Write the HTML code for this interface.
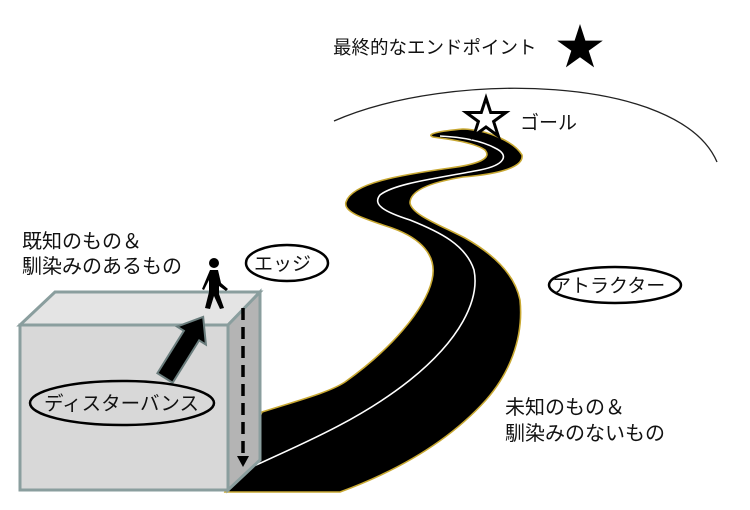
<!DOCTYPE html>
<html><head><meta charset="utf-8"><style>
body{margin:0;background:#fff;width:750px;height:505px;overflow:hidden}
svg text{font-family:"Liberation Sans","Noto Sans CJK JP",sans-serif;font-size:19px;fill:#111}
</style></head><body>
<svg width="750" height="505" viewBox="0 0 750 505" xmlns="http://www.w3.org/2000/svg">
<path d="M334,121 C450,70 680,75 717,162" fill="none" stroke="#222" stroke-width="1.3"/>
<text x="333" y="54" style="font-size:18.5px">最終的なエンドポイント</text>
<polygon points="580,24 585.4,40.6 602.8,40.6 588.7,50.8 594.1,67.4 580,57.2 565.9,67.4 571.3,50.8 557.2,40.6 574.6,40.6" fill="#000"/>
<text x="520" y="129">ゴール</text>
<!-- road -->
<path d="M225,492 L262,412 C300,400 330,392 345,382 C390,350 425,310 432,280 C438,255 420,238 392,228 C362,218 343,212 346,202 C352,183 400,175 450,168 C480,164 492,158 485,150 C475,143 455,140 433,137 C425,134 440,131 463,129 C490,130 515,143 522,155 C524,167 500,174 463,177 C432,182 410,190 410,203 C412,215 440,225 465,238 C495,255 515,275 520,300 C524,340 508,375 486,400 C450,440 400,470 340,492 Z" fill="#000" stroke="#c8a832" stroke-width="1.6"/>
<path d="M245,470 C300,445 360,420 410,380 C460,340 480,300 474,270 C466,245 440,232 410,220 C385,212 372,205 380,195 C395,183 440,178 480,170 C505,165 510,155 495,148 C480,140 460,137 440,136" fill="none" stroke="#fff" stroke-width="1.6"/>
<!-- box -->
<polygon points="20,325 55,292 260,292 228,325" fill="#e4e4e4" stroke="#8a9e9e" stroke-width="3"/>
<polygon points="228,325 260,292 260,460 228,490" fill="#b4b4b4" stroke="#8a9e9e" stroke-width="3"/>
<rect x="20" y="325" width="208" height="165" fill="#d8d8d8" stroke="#8a9e9e" stroke-width="3"/>
<line x1="243" y1="308" x2="243" y2="458" stroke="#000" stroke-width="3.5" stroke-dasharray="12,7"/>
<polygon points="237,456 249,456 243,467" fill="#000"/>
<!-- big arrow -->
<g transform="translate(165,378) rotate(-58)">
<polygon points="0,-9 50,-9 50,-17 72,0 50,17 50,9 0,9" fill="#000" stroke="#6a7d7d" stroke-width="2"/>
</g>
<ellipse cx="122" cy="403" rx="92" ry="22" fill="none" stroke="#000" stroke-width="2.5"/>
<text x="44" y="410" style="font-size:19.5px">ディスターバンス</text>
<!-- person -->
<circle cx="214" cy="263" r="5" fill="#000"/>
<path d="M210,270 L218,270 L221,283 L228,289 L226,291 L219,286 L219,294 L224,308 L220,309 L214,296 L210,309 L205,308 L209,292 L209,280 L204,290 L202,289 Z" fill="#000"/>
<ellipse cx="287" cy="263" rx="41" ry="18" fill="#fff" stroke="#000" stroke-width="2.5"/>
<text x="254" y="270">エッジ</text>
<ellipse cx="615" cy="285" rx="66" ry="18" fill="#fff" stroke="#000" stroke-width="2.5"/>
<text x="552" y="292">アトラクター</text>
<text x="22" y="248" style="font-size:20px">既知のもの＆</text>
<text x="22" y="273" style="font-size:20px">馴染みのあるもの</text>
<text x="505" y="414" style="font-size:20px">未知のもの＆</text>
<text x="505" y="440" style="font-size:20px">馴染みのないもの</text>
<polygon points="486,98 490.7,112.5 505.9,112.5 493.6,121.5 498.3,136 486,127 473.7,136 478.4,121.5 466.1,112.5 481.3,112.5" fill="#fff" stroke="#000" stroke-width="3"/>
</svg>
</body></html>
